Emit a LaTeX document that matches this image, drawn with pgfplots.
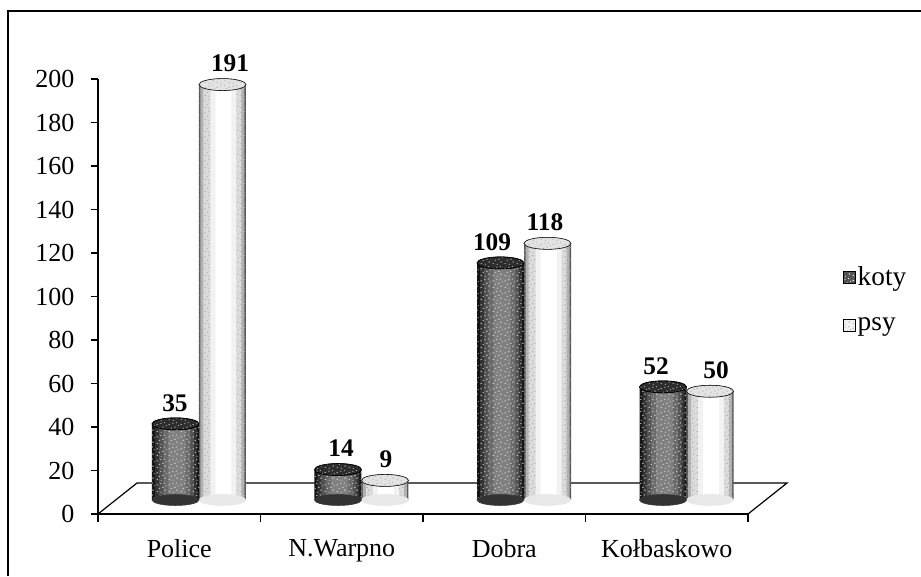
\documentclass[border=0pt]{standalone}
\usepackage{pgfplots}
\pgfplotsset{compat=1.18}
\usepackage{fontspec}
\setmainfont{Liberation Serif}
\usetikzlibrary{patterns}
\newlength{\px}\setlength{\px}{0.75pt}
\definecolor{kd}{gray}{0.2}
\pgfdeclarepatternformonly{speck}{\pgfpointorigin}{\pgfqpoint{9pt}{9pt}}{\pgfqpoint{9pt}{9pt}}{
 \pgfpathcircle{\pgfqpoint{1pt}{1.2pt}}{0.55pt}
 \pgfpathcircle{\pgfqpoint{4.2pt}{0.6pt}}{0.45pt}
 \pgfpathcircle{\pgfqpoint{7.3pt}{2.4pt}}{0.6pt}
 \pgfpathcircle{\pgfqpoint{2.6pt}{3.7pt}}{0.45pt}
 \pgfpathcircle{\pgfqpoint{5.6pt}{4.6pt}}{0.55pt}
 \pgfpathcircle{\pgfqpoint{8.2pt}{5.9pt}}{0.45pt}
 \pgfpathcircle{\pgfqpoint{0.9pt}{6.6pt}}{0.55pt}
 \pgfpathcircle{\pgfqpoint{3.9pt}{7.6pt}}{0.5pt}
 \pgfpathcircle{\pgfqpoint{6.7pt}{8.1pt}}{0.45pt}
 \pgfusepath{fill}}
\pgfdeclareplotmark{ktop}{\fill[gray!35!black,draw=black,line width=0.5pt] (0pt,0pt) ellipse [x radius=23.5\px,y radius=6\px];\fill[pattern=speck,pattern color=gray!60] (0pt,0pt) ellipse [x radius=23.5\px,y radius=6\px];}
\pgfdeclareplotmark{kbot}{\fill[kd] (0pt,0pt) ellipse [x radius=23.5\px,y radius=5.5\px];}
\pgfdeclareplotmark{ptop}{\fill[gray!22,draw=gray!65,line width=0.4pt] (0pt,0pt) ellipse [x radius=23.5\px,y radius=6\px];\fill[pattern=speck,pattern color=gray!60] (0pt,0pt) ellipse [x radius=23.5\px,y radius=6\px];}
\pgfdeclareplotmark{pbot}{\fill[gray!18] (0pt,0pt) ellipse [x radius=23.5\px,y radius=5.5\px];}
\newcommand\lay[4]{\addplot[ybar,bar width=#2\px,bar shift=#1\px,draw=none,fill=black!#3,forget plot] coordinates {#4};}
\newcommand\spk[4]{\addplot[ybar,bar width=#2\px,bar shift=#1\px,draw=none,pattern=speck,pattern color=#3,forget plot] coordinates {#4};}
\def\psydata{(0,191)(1,9)(2,118)(3,50)}
\def\kotydata{(0,35)(1,14)(2,109)(3,52)}
\pgfplotsset{common/.style={
  at={(98\px,62\px)},anchor=south west,
  scale only axis,width=650\px,height=435\px,clip=false}}
\begin{document}
\begin{tikzpicture}[x=1pt,y=1pt]
\path[use as bounding box] (0,0) rectangle (921\px,576\px);
\draw[line width=0.9pt] (8\px,0pt) -- (8\px,565\px) -- (921\px,565\px);
\begin{axis}[common,
  xmin=-0.5,xmax=3.5,ymin=0,ymax=200,
  axis x line=bottom,axis y line=left,
  axis line style={-,line width=0.9pt},
  ytick={0,20,...,200},
  xtick={0,1,2,3},xticklabels={Police,N.Warpno,Dobra,Ko\l{}baskowo},
  minor xtick={-0.5,0.5,1.5,2.5,3.5},
  tick align=outside,
  major tick length=7\px,
  tick style={line width=0.8pt,black},
  x tick style={draw=none},
  minor tick length=8\px,
  minor x tick style={draw=black,line width=0.8pt},
  /pgf/number format/assume math mode=true,
  tick label style={font=\fontsize{19.5}{22}\selectfont},
  yticklabel style={xshift=-12\px},
  xticklabel style={yshift=-14\px},
]
\addplot[line width=0.9pt,black,forget plot] coordinates {(-0.5,0) (-0.26,14.25) (3.74,14.25) (3.5,0)};
\end{axis}
\begin{axis}[common,
  hide axis,
  xmin=-0.6215,xmax=3.3785,ymin=-6.44,ymax=193.56,
  legend style={at={(1.145,0.493)},anchor=west,draw=none,fill=none,
    font=\fontsize{20.5}{23}\selectfont,row sep=25\px,
    inner sep=0pt,legend cell align=left,/tikz/every even column/.style={column sep=2\px}},
]
\addlegendimage{legend image code/.code={\fill[gray!65!black] (0pt,-4.5pt) rectangle (9pt,4.5pt);\fill[pattern=speck,pattern color=white] (0pt,-4.5pt) rectangle (9pt,4.5pt);}}
\addlegendentry{koty}
\addlegendimage{legend image code/.code={\fill[gray!12] (0pt,-4.5pt) rectangle (9pt,4.5pt);\fill[pattern=speck,pattern color=gray!60] (0pt,-4.5pt) rectangle (9pt,4.5pt);}}
\addlegendentry{psy}
% psy: nested bars give the round shading of the cylinder
\addplot[only marks,mark=pbot,forget plot] coordinates {(0.1446,0)(1.1446,0)(2.1446,0)(3.1446,0)};
\lay{23.5}{47}{65}{\psydata}
\lay{23.5}{44}{30}{\psydata}
\lay{23.5}{38}{14}{\psydata}
\spk{23.5}{47}{gray!75}{\psydata}
\lay{24.5}{26}{5}{\psydata}
\lay{24.5}{16}{0}{\psydata}
\addplot[only marks,mark=ptop,forget plot] coordinates {(0.1446,191)(1.1446,9)(2.1446,118)(3.1446,50)};
% koty
\addplot[only marks,mark=kbot,forget plot] coordinates {(-0.1446,0)(0.8554,0)(1.8554,0)(2.8554,0)};
\lay{-23.5}{47}{92}{\kotydata}
\lay{-23}{42}{80}{\kotydata}
\lay{-22.5}{35}{68}{\kotydata}
\lay{-22}{27}{58}{\kotydata}
\lay{-22}{17}{50}{\kotydata}
\spk{-23.5}{47}{white!80!gray}{\kotydata}
\addplot[only marks,mark=ktop,forget plot] coordinates {(-0.1446,35)(0.8554,14)(1.8554,109)(2.8554,52)};
\addplot[draw=none,mark=none,forget plot,point meta=explicit symbolic,
  nodes near coords,
  every node near coord/.append style={font=\bfseries\fontsize{19}{21}\selectfont,anchor=center,yshift=21\px,inner sep=0pt}]
  coordinates {(-0.1477,35)[35] (0.1908,191)[191] (0.8739,14)[14] (1.1508,9)[9] (1.8031,109)[109] (2.1293,118)[118] (2.8123,52)[52] (3.1816,50)[50]};
\end{axis}
\end{tikzpicture}
\end{document}
